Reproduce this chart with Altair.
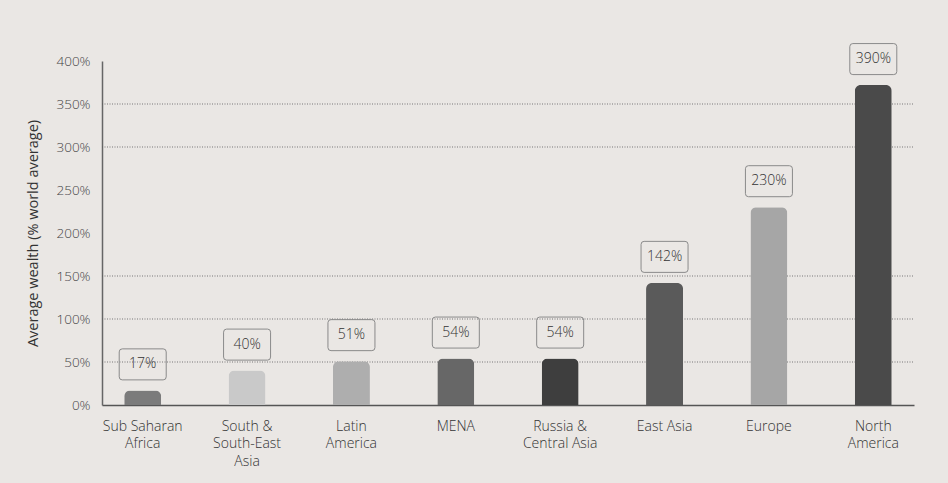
import altair as alt
import pandas as pd

# ---- data ----
regions = ["Sub Saharan\nAfrica", "South &\nSouth-East\nAsia", "Latin\nAmerica", "MENA",
           "Russia &\nCentral Asia", "East Asia", "Europe", "North\nAmerica"]
bar_heights = [17, 40, 51, 54, 54, 142, 230, 372]
value_labels = ["17%", "40%", "51%", "54%", "54%", "142%", "230%", "390%"]
bar_colors = ["#7b7b7b", "#c9c9c9", "#aeaeae", "#676767", "#3e3e3e", "#5a5a5a", "#a6a6a6", "#4a4a4a"]
y_ticks = [0, 50, 100, 150, 200, 250, 300, 350, 400]
grid_levels = [50, 100, 150, 300, 350]

df = pd.DataFrame({"region": regions, "height": bar_heights,
                   "label": value_labels, "color": bar_colors})
grid_df = pd.DataFrame({"level": grid_levels})

W, H = 812, 344
FONT = "Open Sans"

x_scale = alt.Scale(domain=regions, paddingInner=0.6, paddingOuter=0.19)
y_scale = alt.Scale(domain=[0, 400], nice=False)

x_enc = alt.X("region:N", scale=x_scale, sort=regions, title=None,
              axis=alt.Axis(labelExpr="split(datum.label, '\\n')", labelAngle=0,
                            labelFont=FONT, labelFontSize=14, labelFontWeight=300,
                            labelColor="#333333",
                            labelLineHeight=17.5, labelPadding=14, ticks=False,
                            domainColor="#555555", domainWidth=1.5, grid=False))

y_enc = alt.Y("height:Q", scale=y_scale, title="Average wealth (% world average)",
              axis=alt.Axis(values=y_ticks, labelExpr="datum.value + '%'",
                            labelFont=FONT, labelFontSize=13.5, labelFontWeight=300,
                            labelColor="#444444",
                            labelPadding=12, ticks=False, grid=False,
                            domainColor="#666666", domainWidth=1.5,
                            titleFont=FONT, titleFontSize=14.5, titleColor="#333333",
                            titleFontWeight="normal", titleAngle=270,
                            titleX=-69, titleY=172, titleAlign="center",
                            titleBaseline="middle"))

grid = alt.Chart(grid_df).mark_rule(color="#5a5a5a", strokeWidth=1,
                                    strokeDash=[1, 1.5], opacity=0.8).encode(
    y=alt.Y("level:Q", scale=y_scale),
    x=alt.value(0), x2=alt.value(W))

bars = alt.Chart(df).mark_bar(width=37, cornerRadiusTopLeft=6,
                              cornerRadiusTopRight=6).encode(
    x=x_enc, y=y_enc,
    color=alt.Color("color:N", scale=None))

box_path = ("M -0.87 -0.66 L 0.87 -0.66 Q 1 -0.66 1 -0.53 L 1 0.53 Q 1 0.66 0.87 0.66 "
            "L -0.87 0.66 Q -1 0.66 -1 0.53 L -1 -0.53 Q -1 -0.66 -0.87 -0.66 Z")

boxes = alt.Chart(df).mark_point(shape=box_path, size=47 * 47, filled=False,
                                 stroke="#8a8a8a", strokeWidth=1, opacity=1,
                                 yOffset=-26).encode(
    x=alt.X("region:N", scale=x_scale, sort=regions),
    y=alt.Y("height:Q", scale=y_scale))

texts = alt.Chart(df).mark_text(font=FONT, fontSize=14, fontWeight=300, color="#333333",
                                baseline="middle", dy=-26).encode(
    x=alt.X("region:N", scale=x_scale, sort=regions),
    y=alt.Y("height:Q", scale=y_scale),
    text="label:N")

chart = alt.layer(grid, bars, boxes, texts).properties(
    width=W, height=H,
    background="#eae7e4",
    padding={"left": 102, "top": 61, "right": 34, "bottom": 78},
    autosize=alt.AutoSizeParams(type="none"),
).configure_view(stroke=None)

chart.save("out.html", embed_options={"renderer": "svg", "actions": False})
